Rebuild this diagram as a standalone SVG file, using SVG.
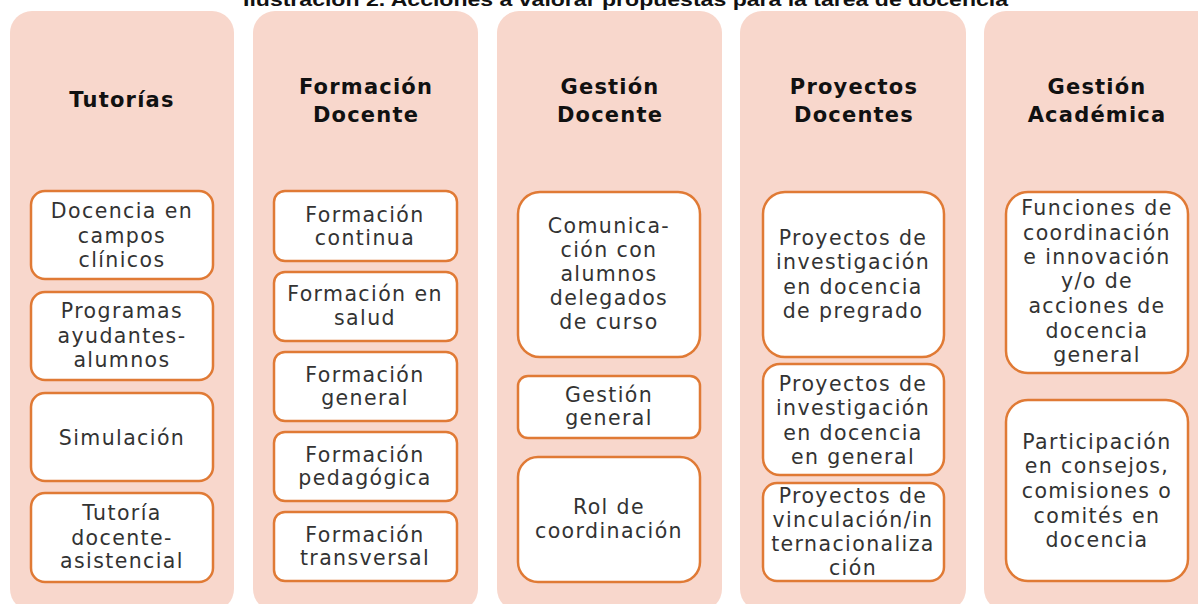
<svg xmlns="http://www.w3.org/2000/svg" width="1198" height="604" viewBox="0 0 1198 604">
<style>
.panel{fill:#F8D7CC;stroke:none}
.box{fill:#FFFFFF;stroke:#E07A35;stroke-width:2.5}
.hd{font-family:"DejaVu Sans",sans-serif;font-weight:bold;font-size:21px;fill:#111;text-anchor:middle;letter-spacing:1.2px}
.tx{font-family:"DejaVu Sans",sans-serif;font-size:20.5px;fill:#333;text-anchor:middle;letter-spacing:1.4px}
.cap{font-family:"Liberation Sans",Arial,sans-serif;font-weight:bold;font-size:18px;fill:#111}
</style>
<rect width="1198" height="604" fill="#FFFFFF"/>
<text class="cap" x="243" y="6" textLength="765" lengthAdjust="spacingAndGlyphs">Ilustración 2. Acciones a valorar propuestas para la tarea de docencia</text>

<g id="col-tutorias">
<rect class="panel" x="10" y="11" width="224" height="600" rx="22"/>
<text class="hd" x="122" y="107">Tutorías</text>
</g>
<g id="col-formacion">
<rect class="panel" x="253" y="11" width="225" height="600" rx="22"/>
<text class="hd" x="366" y="94">Formación</text>
<text class="hd" x="366" y="122">Docente</text>
</g>
<g id="col-gestion-docente">
<rect class="panel" x="497" y="11" width="225" height="600" rx="22"/>
<text class="hd" x="610" y="94">Gestión</text>
<text class="hd" x="610" y="122">Docente</text>
</g>
<g id="col-proyectos">
<rect class="panel" x="740" y="11" width="226" height="600" rx="22"/>
<text class="hd" x="854" y="94">Proyectos</text>
<text class="hd" x="854" y="122">Docentes</text>
</g>
<g id="col-gestion-academica">
<rect class="panel" x="984" y="11" width="240" height="600" rx="22"/>
<text class="hd" x="1097" y="94">Gestión</text>
<text class="hd" x="1097" y="122">Académica</text>
</g>

<!-- Tutorías -->
<g id="n-docencia-campos">
<rect class="box" x="31" y="191" width="182" height="88" rx="14"/>
<text class="tx" x="122" y="218">Docencia en</text>
<text class="tx" x="122" y="243">campos</text>
<text class="tx" x="122" y="267">clínicos</text>
</g>
<g id="n-programas">
<rect class="box" x="31" y="292" width="182" height="88" rx="14"/>
<text class="tx" x="122" y="318">Programas</text>
<text class="tx" x="122" y="343">ayudantes-</text>
<text class="tx" x="122" y="367">alumnos</text>
</g>
<g id="n-simulacion">
<rect class="box" x="31" y="393" width="182" height="88" rx="14"/>
<text class="tx" x="122" y="445">Simulación</text>
</g>
<g id="n-tutoria">
<rect class="box" x="31" y="493" width="182" height="89" rx="14"/>
<text class="tx" x="122" y="520">Tutoría</text>
<text class="tx" x="122" y="545">docente-</text>
<text class="tx" x="122" y="568">asistencial</text>
</g>

<!-- Formación Docente -->
<g id="n-f-continua">
<rect class="box" x="274" y="191" width="183" height="70" rx="11"/>
<text class="tx" x="365" y="222">Formación</text>
<text class="tx" x="365" y="245">continua</text>
</g>
<g id="n-f-salud">
<rect class="box" x="274" y="272" width="183" height="69" rx="11"/>
<text class="tx" x="365" y="301">Formación en</text>
<text class="tx" x="365" y="325">salud</text>
</g>
<g id="n-f-general">
<rect class="box" x="274" y="352" width="183" height="69" rx="11"/>
<text class="tx" x="365" y="382">Formación</text>
<text class="tx" x="365" y="405">general</text>
</g>
<g id="n-f-pedagogica">
<rect class="box" x="274" y="432" width="183" height="69" rx="11"/>
<text class="tx" x="365" y="462">Formación</text>
<text class="tx" x="365" y="485">pedagógica</text>
</g>
<g id="n-f-transversal">
<rect class="box" x="274" y="512" width="183" height="69" rx="11"/>
<text class="tx" x="365" y="542">Formación</text>
<text class="tx" x="365" y="565">transversal</text>
</g>

<!-- Gestión Docente -->
<g id="n-comunicacion">
<rect class="box" x="518" y="192" width="182" height="165" rx="22"/>
<text class="tx" x="609" y="233">Comunica-</text>
<text class="tx" x="609" y="257">ción con</text>
<text class="tx" x="609" y="281">alumnos</text>
<text class="tx" x="609" y="305">delegados</text>
<text class="tx" x="609" y="329">de curso</text>
</g>
<g id="n-gestion-general">
<rect class="box" x="518" y="376" width="182" height="62" rx="10"/>
<text class="tx" x="609" y="402">Gestión</text>
<text class="tx" x="609" y="425">general</text>
</g>
<g id="n-rol">
<rect class="box" x="518" y="457" width="182" height="125" rx="20"/>
<text class="tx" x="609" y="514">Rol de</text>
<text class="tx" x="609" y="538">coordinación</text>
</g>

<!-- Proyectos Docentes -->
<g id="n-p-pregrado">
<rect class="box" x="763" y="192" width="181" height="165" rx="22"/>
<text class="tx" x="853" y="245">Proyectos de</text>
<text class="tx" x="853" y="269">investigación</text>
<text class="tx" x="853" y="294">en docencia</text>
<text class="tx" x="853" y="318">de pregrado</text>
</g>
<g id="n-p-general">
<rect class="box" x="763" y="364" width="181" height="111" rx="17"/>
<text class="tx" x="853" y="391">Proyectos de</text>
<text class="tx" x="853" y="415">investigación</text>
<text class="tx" x="853" y="440">en docencia</text>
<text class="tx" x="853" y="464">en general</text>
</g>
<g id="n-p-vinculacion">
<rect class="box" x="763" y="483" width="181" height="98" rx="14"/>
<text class="tx" x="853" y="503">Proyectos de</text>
<text class="tx" x="853" y="527">vinculación/in</text>
<text class="tx" x="853" y="551">ternacionaliza</text>
<text class="tx" x="853" y="575">ción</text>
</g>

<!-- Gestión Académica -->
<g id="n-funciones">
<rect class="box" x="1006" y="192" width="182" height="181" rx="22"/>
<text class="tx" x="1097" y="215">Funciones de</text>
<text class="tx" x="1097" y="240">coordinación</text>
<text class="tx" x="1097" y="264">e innovación</text>
<text class="tx" x="1097" y="288">y/o de</text>
<text class="tx" x="1097" y="313">acciones de</text>
<text class="tx" x="1097" y="338">docencia</text>
<text class="tx" x="1097" y="362">general</text>
</g>
<g id="n-participacion">
<rect class="box" x="1006" y="400" width="182" height="181" rx="22"/>
<text class="tx" x="1097" y="449">Participación</text>
<text class="tx" x="1097" y="473">en consejos,</text>
<text class="tx" x="1097" y="498">comisiones  o</text>
<text class="tx" x="1097" y="523">comités  en</text>
<text class="tx" x="1097" y="547">docencia</text>
</g>
<g id="connectors"></g>
</svg>
